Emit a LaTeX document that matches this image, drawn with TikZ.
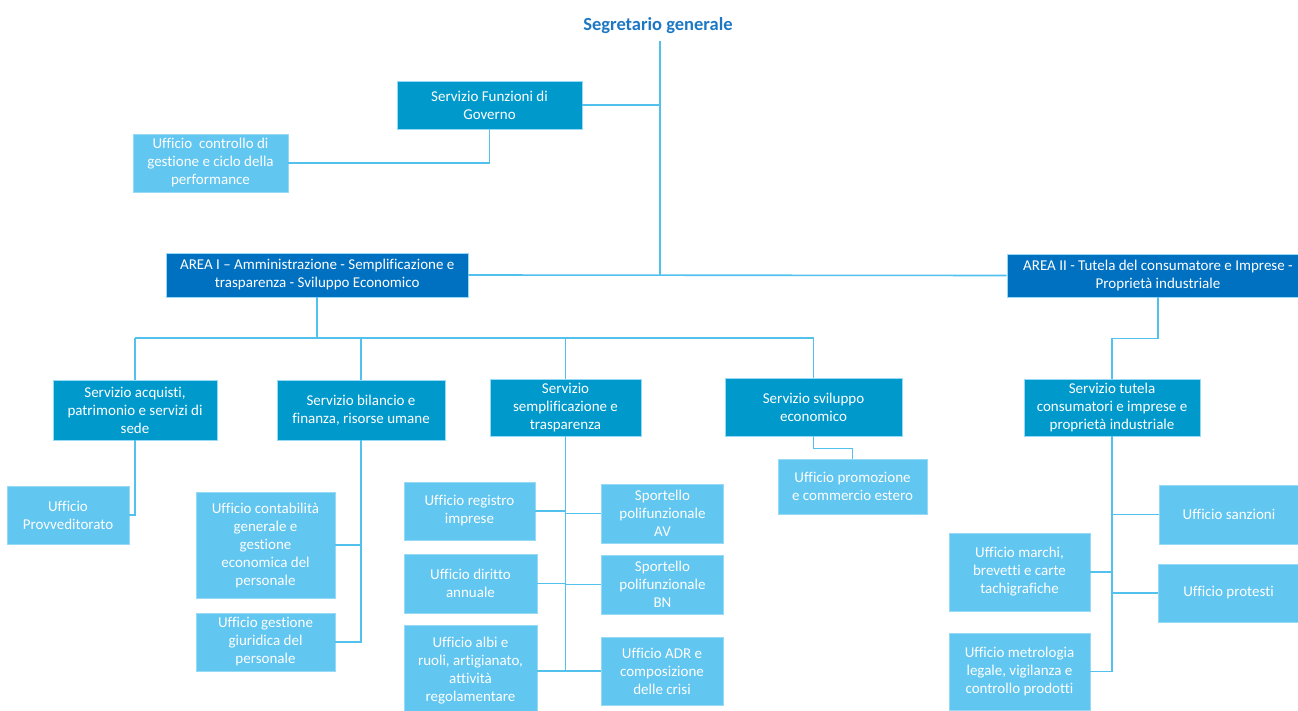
\documentclass[tikz,border=0pt]{standalone}
\usepackage{fontspec}
\setmainfont{Carlito}[Ligatures={TeX,NoCommon}]
\usepackage{tikz}
\usetikzlibrary{calc,positioning}

\definecolor{areablue}{RGB}{0,112,192}
\definecolor{servblue}{RGB}{0,153,204}
\definecolor{uffblue}{RGB}{97,198,240}
\definecolor{linkblue}{RGB}{82,193,238}
\definecolor{titleblue}{RGB}{28,120,196}

\tikzset{
  box/.style={draw=linkblue!60!white, line width=0.8, inner sep=0, align=center,
    text=white, font=\fontsize{15}{18}\selectfont},
  boxsize/.style 2 args={minimum width=#1, minimum height=#2},
  area/.style={box, fill=areablue},
  serv/.style={box, fill=servblue},
  uff/.style={box, fill=uffblue},
  link/.style={draw=linkblue, line width=1.6}
}

\begin{document}
\begin{tikzpicture}[x=1pt,y=-1pt]
\useasboundingbox (0,0) rectangle (1298,711);
\clip (0,0) rectangle (1298,711);

\node[text=titleblue, font=\fontsize{18.5}{22}\selectfont\bfseries, inner ysep=7] (sg) at (658,25.5) {Segretario generale};

\node[serv, boxsize={185}{48}] (sfg) at (489.5,105) {Servizio Funzioni di\\Governo};
\node[uff, boxsize={155}{58}] (ucg) at (210.5,163) {Ufficio\ \ controllo di\\gestione e ciclo della\\performance};

\node[area, boxsize={301.5}{44}] (area1) at (317.25,275) {AREA I – Amministrazione - Semplificazione e\\trasparenza - Sviluppo Economico};
\node[area, boxsize={302}{43}] (area2) at (1158,275.5) {AREA II - Tutela del consumatore e Imprese -\\Proprietà industriale};

% servizi area I
\node[serv, boxsize={164}{60}] (sacq) at (135,410) {Servizio acquisti,\\patrimonio e servizi di\\sede};
\node[serv, boxsize={168}{60}] (sbil) at (361,410) {Servizio bilancio e\\finanza, risorse umane};
\node[serv, boxsize={151}{57}] (ssem) at (565.5,407.5) {Servizio\\semplificazione e\\trasparenza};
\node[serv, boxsize={177}{58}] (ssvi) at (813.5,407) {Servizio sviluppo\\economico};
% servizio area II
\node[serv, boxsize={176}{57}] (stut) at (1112,407.5) {Servizio tutela\\consumatori e imprese e\\proprietà industriale};

% uffici
\node[uff, boxsize={122}{58}] (uprov) at (68,515) {Ufficio\\Provveditorato};
\node[uff, boxsize={139}{106}] (ucont) at (265.5,545) {Ufficio contabilità\\generale e\\gestione\\economica del\\personale};
\node[uff, boxsize={139}{58}] (ugiur) at (265.5,642) {Ufficio gestione\\giuridica del\\personale};

\node[uff, boxsize={131}{58}] (ureg) at (469.5,511) {Ufficio registro\\imprese};
\node[uff, boxsize={133}{59}] (udir) at (470.5,583.5) {Ufficio diritto\\annuale};
\node[uff, boxsize={133}{92}] (ualbi) at (470.5,671) {Ufficio albi e\\ruoli, artigianato,\\attività\\regolamentare};
\node[uff, boxsize={122}{59}] (spav) at (662.5,513.5) {Sportello\\polifunzionale\\AV};
\node[uff, boxsize={122}{59}] (spbn) at (662.5,584.5) {Sportello\\polifunzionale\\BN};
\node[uff, boxsize={122}{68}] (uadr) at (662,671) {Ufficio ADR e\\composizione\\delle crisi};

\node[uff, boxsize={149}{55}] (uprom) at (852.5,486.5) {Ufficio promozione\\e commercio estero};

\node[uff, boxsize={140}{59}] (usan) at (1229,514.5) {Ufficio sanzioni};
\node[uff, boxsize={141}{58}] (uprot) at (1228.5,593) {Ufficio protesti};
\node[uff, boxsize={141}{78}] (umar) at (1019.5,572) {Ufficio marchi,\\brevetti e carte\\tachigrafiche};
\node[uff, boxsize={141}{77}] (umet) at (1019.5,671.5) {Ufficio metrologia\\legale, vigilanza e\\controllo prodotti};

% connettori
\coordinate (hub) at ([xshift=2]sg.south |- area1.east);
\coordinate (bus1) at (0,338);
\draw[link] ([xshift=2]sg.south) -- (hub);
\draw[link] (area1.east) -- (area2.west);
\draw[link] (sfg.east) -- (sfg.east -| hub);
\draw[link] (ucg.east) -| (sfg.south);

\draw[link] (area1.south) -- (area1.south |- bus1);
\draw[link] (sacq.north |- bus1) -- (ssvi.north |- bus1);
\foreach \s in {sacq,sbil,ssem,ssvi}
  \draw[link] (\s.north) -- (\s.north |- bus1);

\draw[link] (sacq.south) |- (uprov.east);
\draw[link] (sbil.south) |- (ugiur.east);
\draw[link] (ucont.east) -- (ucont.east -| sbil.south);

\draw[link] (ssem.south) -- (ssem.south |- ualbi.east);
\foreach \u in {ureg,udir,ualbi}
  \draw[link] (\u.east) -- (\u.east -| ssem.south);
\foreach \u in {spav,spbn,uadr}
  \draw[link] (\u.west) -- (\u.west -| ssem.south);

\draw[link] (ssvi.south) -- ++(0,12) -| (uprom.north);

\draw[link] (area2.south) -- ++(0,41) -| (stut.north);
\draw[link] (stut.south) -- (stut.south |- umet.east);
\foreach \u in {umar,umet}
  \draw[link] (\u.east) -- (\u.east -| stut.south);
\foreach \u in {usan,uprot}
  \draw[link] (\u.west) -- (\u.west -| stut.south);
\end{tikzpicture}
\end{document}
